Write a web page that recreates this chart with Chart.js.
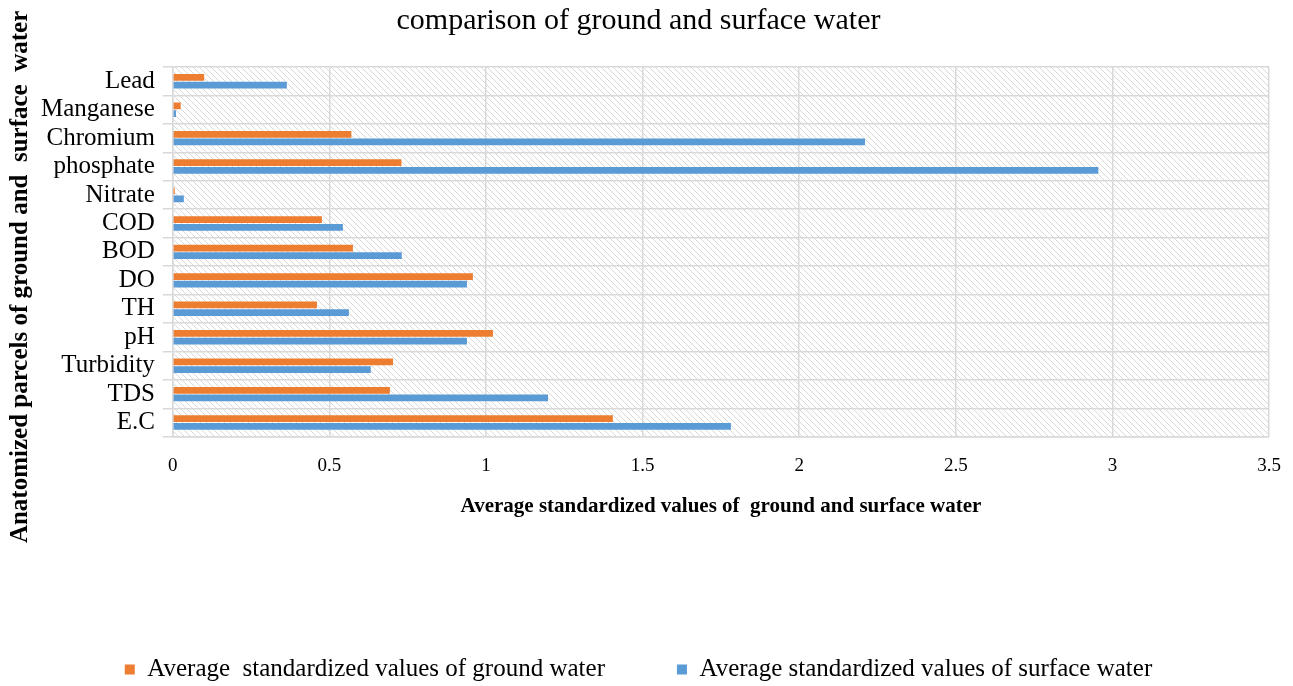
<!DOCTYPE html>
<html>
<head>
<meta charset="utf-8">
<script src="https://cdn.jsdelivr.net/npm/chart.js@4/dist/chart.umd.min.js"></script>
<style>
html,body{margin:0;padding:0;background:#fff;}
#wrap{width:1293px;height:686px;}
</style>
</head>
<body>
<div id="wrap"><canvas id="c" width="1293" height="686"></canvas></div>
<script>
const categories = ["Lead","Manganese","Chromium","phosphate","Nitrate","COD","BOD","DO","TH","pH","Turbidity","TDS","E.C"];
const groundWater = [0.10,0.025,0.57,0.73,0.006,0.476,0.575,0.958,0.46,1.022,0.703,0.693,1.405];
const surfaceWater = [0.364,0.01,2.21,2.955,0.035,0.543,0.731,0.939,0.562,0.939,0.632,1.198,1.782];
const xTickValues = [0,0.5,1,1.5,2,2.5,3,3.5];
const seriesNames = ["Average  standardized values of ground water","Average standardized values of surface water"];
const chartTitle = "comparison of ground and surface water";
const xTitle = "Average standardized values of  ground and surface water";
const yTitle = "Anatomized parcels of ground and  surface  water";

const serif = "'Liberation Serif','Times New Roman',serif";

function makePattern(){
  const s = 6;
  const p = document.createElement('canvas');
  p.width = s; p.height = s;
  const g = p.getContext('2d');
  g.fillStyle = '#ffffff';
  g.fillRect(0,0,s,s);
  g.strokeStyle = '#d8d8d8';
  g.lineWidth = 1;
  g.beginPath();
  g.moveTo(0,0); g.lineTo(s,s);
  g.moveTo(-1,s-1); g.lineTo(1,s+1);
  g.moveTo(s-1,-1); g.lineTo(s+1,1);
  g.stroke();
  return p;
}

const hatchPlugin = {
  id: 'hatch',
  beforeDraw(chart){
    const {ctx, chartArea} = chart;
    if(!chartArea) return;
    ctx.save();
    ctx.fillStyle = ctx.createPattern(makePattern(),'repeat');
    ctx.fillRect(chartArea.left, chartArea.top, chartArea.right-chartArea.left, chartArea.bottom-chartArea.top);
    ctx.restore();
  }
};

new Chart(document.getElementById('c'), {
  type: 'bar',
  data: {
    labels: categories,
    datasets: [
      {label: seriesNames[0], data: groundWater, backgroundColor: '#ED7D31', barPercentage: 0.88, categoryPercentage: 0.54},
      {label: seriesNames[1], data: surfaceWater, backgroundColor: '#5B9BD5', barPercentage: 0.88, categoryPercentage: 0.54}
    ]
  },
  plugins: [hatchPlugin],
  options: {
    indexAxis: 'y',
    responsive: false,
    animation: false,
    layout: {padding: {left: 8, right: 24, top: 0, bottom: -6}},
    plugins: {
      title: {
        display: true,
        text: chartTitle,
        color: '#000',
        font: {family: serif, size: 30, weight: 'normal'},
        padding: {top: 3, bottom: 28}
      },
      legend: {
        display: true,
        position: 'bottom',
        labels: {
          color: '#000',
          font: {family: serif, size: 25},
          boxWidth: 10,
          boxHeight: 10,
          padding: 72
        }
      },
      tooltip: {enabled: false}
    },
    scales: {
      x: {
        min: 0,
        max: 3.5,
        afterBuildTicks(scale){ scale.ticks = xTickValues.map(v => ({value: v})); },
        ticks: {
          color: '#000',
          font: {family: serif, size: 19, lineHeight: 1},
          padding: 2,
          callback: (v) => String(v)
        },
        grid: {color: '#d9d9d9', lineWidth: 1.5, drawTicks: true, tickLength: 18, tickColor: 'rgba(0,0,0,0)'},
        border: {color: '#d9d9d9', width: 1.5},
        title: {
          display: true,
          text: xTitle,
          color: '#000',
          font: {family: serif, size: 21, weight: 'bold'},
          padding: {top: 16, bottom: 66}
        }
      },
      y: {
        ticks: {color: '#000', font: {family: serif, size: 25}, padding: 8, autoSkip: false},
        grid: {color: '#d9d9d9', lineWidth: 1.5, tickLength: 10},
        border: {color: '#d9d9d9', width: 1.5},
        title: {
          display: true,
          text: yTitle + "        ",
          color: '#000',
          font: {family: serif, size: 25, weight: 'bold', lineHeight: 1},
          padding: {top: 0, bottom: 0}
        }
      }
    }
  }
});
</script>
</body>
</html>
